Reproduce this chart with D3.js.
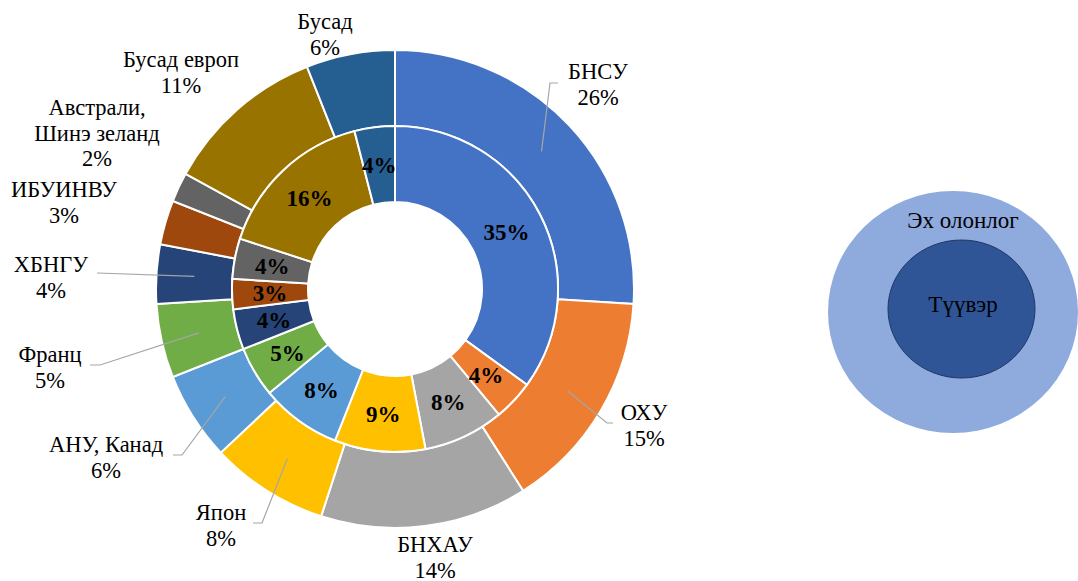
<!DOCTYPE html>
<html>
<head>
<meta charset="utf-8">
<script src="https://cdn.jsdelivr.net/npm/d3@7"></script>
<style>
  body { margin: 0; background: #fff; }
</style>
</head>
<body>
<svg id="chart" width="1078" height="581"></svg>
<script>
// categories and shares (percent)
const categories = ["БНСУ", "ОХУ", "БНХАУ", "Япон", "АНУ, Канад", "Франц", "ХБНГУ", "ИБУИНВУ", "Австрали, Шинэ зеланд", "Бусад европ", "Бусад"];
const population = [26, 15, 14, 8, 6, 5, 4, 3, 2, 11, 6];   // outer ring: Эх олонлог
const sample = [35, 4, 8, 9, 8, 5, 4, 3, 4, 16, 4];          // inner ring: Түүвэр
const legendLabels = ["Эх олонлог", "Түүвэр"];

const colors = ["#4472C4", "#ED7D31", "#A5A5A5", "#FFC000", "#5B9BD5", "#70AD47",
                "#264478", "#9E480E", "#636363", "#997300", "#255E91"];

const FONT = '"Liberation Serif"';

// label placement for the outer ring (Excel moved these around by hand)
const labelLayout = [
  { x: 598, y: 79,  lines: ["БНСУ"], lead: [558, 83, 550, 83] },
  { x: 644, y: 420, lines: ["ОХУ"], lead: [613, 423, 607, 423] },
  { x: 435, y: 552, lines: ["БНХАУ"] },
  { x: 221, y: 520, lines: ["Япон"], lead: [253, 523, 262, 523] },
  { x: 106, y: 452, lines: ["АНУ, Канад"], lead: [173, 455, 182, 455] },
  { x: 50,  y: 362, lines: ["Франц"], lead: [90, 365, 100, 365] },
  { x: 51,  y: 272, lines: ["ХБНГУ"], lead: [97, 273, 97, 273] },
  { x: 64,  y: 197, lines: ["ИБУИНВУ"] },
  { x: 97,  y: 115, lines: ["Австрали,", "Шинэ зеланд"] },
  { x: 181, y: 67,  lines: ["Бусад европ"] },
  { x: 325, y: 29,  lines: ["Бусад"] }
];

const svg = d3.select("#chart");
const cx = 395, cy = 289;
const rHole = 87, rMid = 163, rOuter = 239;
const lineH = 25.5;

const pie = d3.pie().sort(null).value(d => d.value);
const color = d3.scaleOrdinal().domain(categories).range(colors);

const outerData = pie(categories.map((c, i) => ({ name: c, value: population[i] })));
const innerData = pie(categories.map((c, i) => ({ name: c, value: sample[i] })));

const outerArc = d3.arc().innerRadius(rMid).outerRadius(rOuter);
const innerArc = d3.arc().innerRadius(rHole).outerRadius(rMid);

const g = svg.append("g").attr("transform", `translate(${cx},${cy})`);

g.selectAll("path.outer")
  .data(outerData)
  .join("path")
  .attr("class", "outer")
  .attr("d", outerArc)
  .attr("fill", d => color(d.data.name))
  .attr("stroke", "#fff")
  .attr("stroke-width", 2);

g.selectAll("path.inner")
  .data(innerData)
  .join("path")
  .attr("class", "inner")
  .attr("d", innerArc)
  .attr("fill", d => color(d.data.name))
  .attr("stroke", "#fff")
  .attr("stroke-width", 2);

// inner ring percentages
g.selectAll("text.inner")
  .data(innerData)
  .join("text")
  .attr("class", "inner")
  .attr("transform", d => `translate(${innerArc.centroid(d)})`)
  .attr("text-anchor", "middle")
  .attr("dy", "0.35em")
  .attr("font-size", 23)
  .attr("font-weight", "bold")
  .style("font-family", FONT)
  .text(d => d.data.value + "%");

// leader lines from label elbow to slice centroid
const leaders = svg.append("g");
outerData.forEach((d, i) => {
  const lay = labelLayout[i];
  if (!lay.lead) return;
  const c = outerArc.centroid(d);
  const pts = [[lay.lead[0], lay.lead[1]], [lay.lead[2], lay.lead[3]], [cx + c[0], cy + c[1]]];
  leaders.append("path")
    .attr("d", d3.line()(pts))
    .attr("fill", "none")
    .attr("stroke", "#A6A6A6")
    .attr("stroke-width", 1.2);
});

// outer ring labels
const labels = svg.append("g");
outerData.forEach((d, i) => {
  const lay = labelLayout[i];
  const t = labels.append("text")
    .attr("x", lay.x)
    .attr("y", lay.y)
    .attr("text-anchor", "middle")
    .attr("font-size", 22.5)
    .style("font-family", FONT);
  lay.lines.concat([d.data.value + "%"]).forEach((s, k) => {
    t.append("tspan").attr("x", lay.x).attr("y", lay.y + k * lineH).text(s);
  });
});

// legend: nested ellipses
const lg = svg.append("g");
lg.append("ellipse")
  .attr("cx", 953).attr("cy", 312).attr("rx", 125).attr("ry", 121)
  .attr("fill", "#8FAADC");
lg.append("ellipse")
  .attr("cx", 961.5).attr("cy", 309).attr("rx", 73.5).attr("ry", 69)
  .attr("fill", "#2F5597")
  .attr("stroke", "#1F3864")
  .attr("stroke-width", 1);
lg.append("text")
  .attr("x", 963).attr("y", 228)
  .attr("text-anchor", "middle")
  .attr("font-size", 23)
  .style("font-family", FONT)
  .text(legendLabels[0]);
lg.append("text")
  .attr("x", 963).attr("y", 312)
  .attr("text-anchor", "middle")
  .attr("font-size", 23)
  .style("font-family", FONT)
  .text(legendLabels[1]);
</script>
</body>
</html>
